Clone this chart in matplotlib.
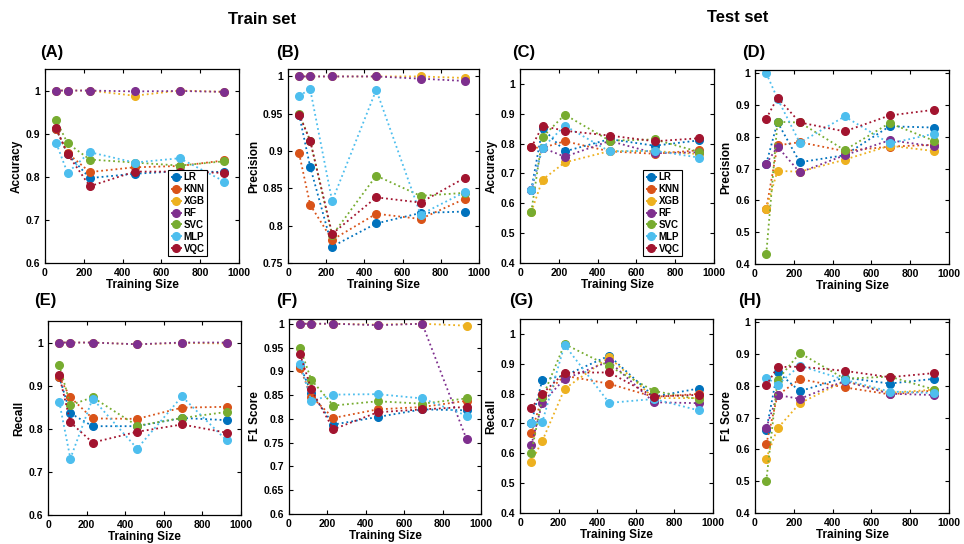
# learning curves for the classical models and VQC, train vs test set
import numpy as np
import matplotlib.pyplot as plt

plt.rcParams['font.family'] = ['Liberation Sans', 'DejaVu Sans']
plt.rcParams['font.weight'] = 'bold'

train_size = [58, 116, 231, 462, 694, 925]
models = ['LR', 'KNN', 'XGB', 'RF', 'SVC', 'MLP', 'VQC']
colors = ['#0072BD', '#D95319', '#EDB120', '#7E2F8E', '#77AC30', '#4DBEEE', '#A2142F']

# rows follow the order of models
train_acc = [[0.910, 0.853, 0.797, 0.807, 0.813, 0.811],
             [0.910, 0.855, 0.811, 0.822, 0.825, 0.838],
             [1.000, 1.000, 1.000, 0.988, 1.000, 0.997],
             [1.000, 1.000, 1.000, 0.998, 0.999, 0.997],
             [0.931, 0.878, 0.840, 0.833, 0.826, 0.836],
             [0.878, 0.809, 0.857, 0.833, 0.843, 0.789],
             [0.912, 0.853, 0.778, 0.812, 0.812, 0.809]]
train_prec = [[0.949, 0.879, 0.772, 0.803, 0.817, 0.819],
              [0.897, 0.828, 0.781, 0.816, 0.809, 0.836],
              [1.000, 1.000, 1.000, 1.000, 1.000, 0.998],
              [1.000, 1.000, 1.000, 1.000, 0.997, 0.994],
              [0.950, 0.914, 0.787, 0.867, 0.840, 0.844],
              [0.974, 0.983, 0.833, 0.982, 0.815, 0.845],
              [0.949, 0.914, 0.789, 0.838, 0.831, 0.864]]
test_acc = [[0.645, 0.852, 0.774, 0.815, 0.793, 0.811],
            [0.787, 0.786, 0.808, 0.774, 0.766, 0.778],
            [0.571, 0.679, 0.737, 0.775, 0.775, 0.765],
            [0.644, 0.786, 0.756, 0.809, 0.768, 0.771],
            [0.571, 0.822, 0.897, 0.810, 0.814, 0.772],
            [0.645, 0.786, 0.860, 0.774, 0.776, 0.753],
            [0.787, 0.859, 0.843, 0.827, 0.808, 0.818]]
test_prec = [[0.715, 0.846, 0.720, 0.742, 0.833, 0.829],
             [0.573, 0.773, 0.783, 0.755, 0.769, 0.775],
             [0.573, 0.693, 0.690, 0.728, 0.772, 0.755],
             [0.715, 0.769, 0.688, 0.742, 0.789, 0.770],
             [0.431, 0.847, 0.845, 0.758, 0.843, 0.787],
             [1.000, 0.920, 0.781, 0.864, 0.779, 0.810],
             [0.857, 0.923, 0.845, 0.817, 0.867, 0.885]]
train_rec = [[0.920, 0.836, 0.806, 0.806, 0.825, 0.820],
             [0.920, 0.873, 0.824, 0.823, 0.849, 0.851],
             [1.000, 1.000, 1.000, 0.996, 0.999, 0.998],
             [1.000, 1.000, 1.000, 0.996, 1.000, 1.000],
             [0.949, 0.855, 0.873, 0.807, 0.825, 0.839],
             [0.863, 0.731, 0.870, 0.754, 0.875, 0.773],
             [0.924, 0.815, 0.768, 0.793, 0.810, 0.791]]
train_f1 = [[0.912, 0.855, 0.788, 0.804, 0.820, 0.818],
            [0.907, 0.847, 0.802, 0.820, 0.825, 0.838],
            [1.000, 1.000, 1.000, 0.998, 1.000, 0.996],
            [1.000, 1.000, 1.000, 0.997, 1.000, 0.757],
            [0.949, 0.882, 0.828, 0.837, 0.832, 0.843],
            [0.916, 0.838, 0.851, 0.852, 0.843, 0.807],
            [0.936, 0.862, 0.778, 0.814, 0.820, 0.825]]
test_rec = [[0.700, 0.847, 0.860, 0.927, 0.790, 0.817],
            [0.667, 0.790, 0.860, 0.833, 0.789, 0.799],
            [0.571, 0.642, 0.816, 0.922, 0.785, 0.785],
            [0.627, 0.770, 0.849, 0.908, 0.771, 0.768],
            [0.600, 0.787, 0.966, 0.892, 0.809, 0.781],
            [0.700, 0.706, 0.963, 0.769, 0.782, 0.744],
            [0.751, 0.800, 0.870, 0.871, 0.790, 0.796]]
test_f1 = [[0.660, 0.844, 0.783, 0.826, 0.807, 0.822],
           [0.616, 0.770, 0.821, 0.795, 0.773, 0.785],
           [0.571, 0.666, 0.745, 0.815, 0.778, 0.788],
           [0.668, 0.771, 0.759, 0.815, 0.775, 0.771],
           [0.500, 0.818, 0.903, 0.822, 0.829, 0.788],
           [0.826, 0.803, 0.863, 0.819, 0.782, 0.777],
           [0.801, 0.859, 0.860, 0.847, 0.827, 0.840]]

fig = plt.figure(figsize=(9.64, 5.44), dpi=100)
W, H = 964, 544

# (data, ylabel, ylim, ystep, pixel box left/right/top/bottom, panel tag, tag x, tag y, legend)
panels = [
    (train_acc, 'Accuracy', (0.6, 1.05), 0.1, (45, 239, 69, 263), '(A)', 40, 52, True),
    (train_prec, 'Precision', (0.75, 1.01), 0.05, (288, 479, 69, 263), '(B)', 276, 52, False),
    (test_acc, 'Accuracy', (0.4, 1.05), 0.1, (520, 714, 69, 263), '(C)', 512, 52, True),
    (test_prec, 'Precision', (0.4, 1.01), 0.1, (755, 949, 70, 264), '(D)', 742, 52, False),
    (train_rec, 'Recall', (0.6, 1.05), 0.1, (48, 241, 321, 515), '(E)', 34, 301, False),
    (train_f1, 'F1 Score', (0.6, 1.01), 0.05, (289, 481, 319, 514), '(F)', 276, 301, False),
    (test_rec, 'Recall', (0.4, 1.05), 0.1, (520, 713, 319, 513), '(G)', 509, 301, False),
    (test_f1, 'F1 Score', (0.4, 1.01), 0.1, (755, 949, 319, 513), '(H)', 738, 301, False),
]

for data, ylab, ylim, ystep, box, tag, tx, ty, show_leg in panels:
    l, r, t, b = box
    ax = fig.add_axes([l / W, 1 - b / H, (r - l) / W, (b - t) / H])
    for name, c, vals in zip(models, colors, data):
        ax.plot(train_size, vals, linestyle=':', color=c, lw=1.3,
                marker='o', markersize=5.5, label=name)
    ax.set_xlim(0, 1000)
    ax.set_ylim(*ylim)
    yt = np.round(np.arange(ylim[0], 1.0001, ystep), 2)
    ax.set_xticks(np.arange(0, 1001, 200))
    ax.set_yticks(yt)
    ax.set_yticklabels(['%g' % v for v in yt])
    ax.tick_params(direction='in', top=True, right=True, labelsize=7.5, length=3, width=0.8)
    for s in ax.spines.values():
        s.set_linewidth(0.9)
    ax.set_xlabel('Training Size', fontsize=8.5, fontweight='bold', labelpad=1)
    ax.set_ylabel(ylab, fontsize=8.5, fontweight='bold', labelpad=2)
    fig.text(tx / W, 1 - ty / H, tag, fontsize=12, fontweight='bold', va='center')
    if show_leg:
        leg = ax.legend(loc='lower right', bbox_to_anchor=(0.86, 0.01), fontsize=7,
                        handlelength=1.1, handletextpad=0.2, borderpad=0.25,
                        labelspacing=0.2, fancybox=False, edgecolor='black',
                        framealpha=1)
        leg.get_frame().set_linewidth(0.8)

fig.text(262 / W, 1 - 20 / H, 'Train set', fontsize=12, fontweight='bold', ha='center', va='center')
fig.text(738 / W, 1 - 18 / H, 'Test set', fontsize=12, fontweight='bold', ha='center', va='center')

plt.savefig('out.png', dpi=100)
